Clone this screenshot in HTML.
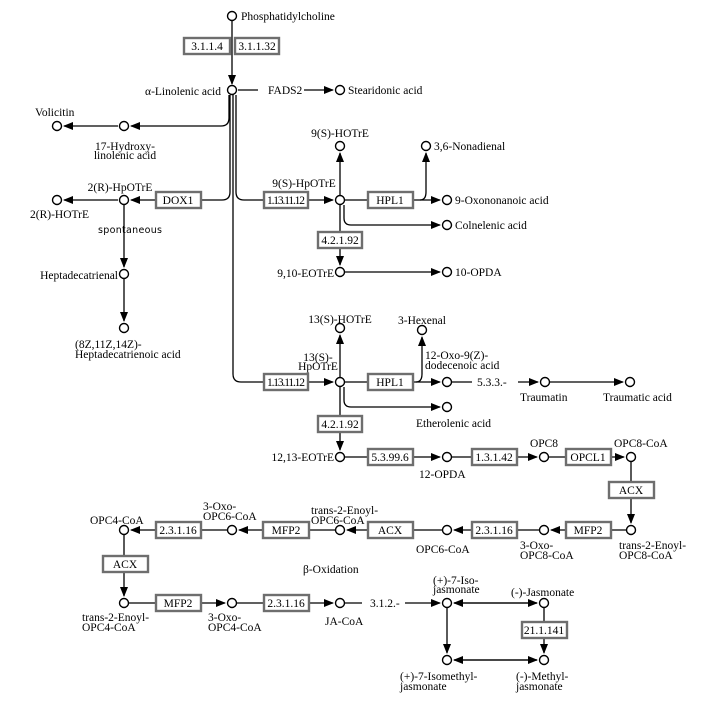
<!DOCTYPE html>
<html><head><meta charset="utf-8"><style>
html,body{margin:0;padding:0;background:#fff;}
svg{display:block;}
text{font-family:"Liberation Serif",serif;font-size:11.5px;fill:#000;}
.b{fill:#fff;stroke:#6e6e6e;stroke-width:2.4;}
.c{fill:#fff;stroke:#000;stroke-width:1.4;}
.l{fill:none;stroke:#000;stroke-width:1.3;}
</style></head><body>
<svg width="710" height="702" viewBox="0 0 710 702" xmlns="http://www.w3.org/2000/svg">
<defs>
<marker id="a" markerWidth="10" markerHeight="8" refX="9" refY="4" orient="auto" markerUnits="userSpaceOnUse">
<path d="M0,0 L10,4 L0,8 Z" fill="#000"/></marker>
</defs>
<g class="l">
<!-- phosphatidylcholine to alpha -->
<path d="M232,21 V84" marker-end="url(#a)"/>
<path d="M238,90 H258 M304,90 H333" marker-end="url(#a)"/>
<!-- parallel lines -->
<path d="M229,95 V118 Q229,126 221,126 H131" marker-end="url(#a)"/>
<path d="M118,126 H64" marker-end="url(#a)"/>
<path d="M230,95 V192 Q230,200 222,200 H202"/>
<path d="M156,200 H131" marker-end="url(#a)"/>
<path d="M118,200 H64" marker-end="url(#a)"/>
<path d="M124,205 V267" marker-end="url(#a)"/>
<path d="M124,279 V321" marker-end="url(#a)"/>
<path d="M236,95 V192 Q236,200 244,200 H264"/>
<path d="M308,200 H333" marker-end="url(#a)"/>
<path d="M233,95 V374 Q233,382 241,382 H264"/>
<!-- 9S branch -->
<path d="M340,195 V153" marker-end="url(#a)"/>
<path d="M345,200 H368 M413,200 H440" marker-end="url(#a)"/>
<path d="M420,200 Q426,200 426,192 V153" marker-end="url(#a)"/>
<path d="M344,205 V218 Q344,225 351,225 H440" marker-end="url(#a)"/>
<path d="M340,205 V265" marker-end="url(#a)"/>
<path d="M345,272 H440" marker-end="url(#a)"/>
<!-- 13S branch -->
<path d="M308,382 H333" marker-end="url(#a)"/>
<path d="M340,377 V335" marker-end="url(#a)"/>
<path d="M345,382 H368 M413,382 H440" marker-end="url(#a)"/>
<path d="M416,382 Q422,382 422,374 V337" marker-end="url(#a)"/>
<path d="M452,382 H472 M518,382 H538" marker-end="url(#a)"/>
<path d="M550,382 H623" marker-end="url(#a)"/>
<path d="M344,387 V400 Q344,407 351,407 H440" marker-end="url(#a)"/>
<path d="M340,387 V450" marker-end="url(#a)"/>
<path d="M345,457 H368 M413,457 H440" marker-end="url(#a)"/>
<path d="M452,457 H472 M517,457 H537" marker-end="url(#a)"/>
<path d="M549,457 H566 M611,457 H624" marker-end="url(#a)"/>
<path d="M631,462 V523" marker-end="url(#a)"/>
<path d="M626,530 H611 M566,530 H551" marker-end="url(#a)"/>
<path d="M539,530 H517 M472,530 H454" marker-end="url(#a)"/>
<path d="M442,530 H413 M368,530 H347" marker-end="url(#a)"/>
<path d="M335,530 H309 M263,530 H239" marker-end="url(#a)"/>
<path d="M227,530 H201 M156,530 H131" marker-end="url(#a)"/>
<path d="M124,535 V596" marker-end="url(#a)"/>
<path d="M129,603 H156 M201,603 H225" marker-end="url(#a)"/>
<path d="M237,603 H264 M309,603 H333" marker-end="url(#a)"/>
<path d="M345,603 H362 M405,603 H440" marker-end="url(#a)"/>
<path d="M454,603 H537" marker-end="url(#a)"/>
<path d="M537,603 H454" marker-end="url(#a)"/>
<path d="M447,608 V653" marker-end="url(#a)"/>
<path d="M544,608 V653" marker-end="url(#a)"/>
<path d="M454,660 H537" marker-end="url(#a)"/>
<path d="M537,660 H454" marker-end="url(#a)"/>
</g>
<!-- enzyme boxes -->
<g>
<rect class="b" x="184" y="38" width="46" height="16"/><text x="207" y="50" text-anchor="middle">3.1.1.4</text>
<rect class="b" x="235" y="38" width="44" height="16"/><text x="257" y="50" text-anchor="middle">3.1.1.32</text>
<rect class="b" x="156" y="192" width="45" height="16"/><text x="178" y="204" text-anchor="middle">DOX1</text>
<rect class="b" x="264" y="192" width="44" height="16"/><text x="286" y="204" text-anchor="middle" textLength="38">1.13.11.12</text>
<rect class="b" x="368" y="192" width="45" height="16"/><text x="390" y="204" text-anchor="middle">HPL1</text>
<rect class="b" x="318" y="232" width="44" height="16"/><text x="340" y="244" text-anchor="middle">4.2.1.92</text>
<rect class="b" x="264" y="374" width="44" height="16"/><text x="286" y="386" text-anchor="middle" textLength="38">1.13.11.12</text>
<rect class="b" x="368" y="374" width="45" height="16"/><text x="390" y="386" text-anchor="middle">HPL1</text>
<rect class="b" x="318" y="416" width="44" height="16"/><text x="340" y="428" text-anchor="middle">4.2.1.92</text>
<rect class="b" x="368" y="449" width="45" height="16"/><text x="390" y="461" text-anchor="middle">5.3.99.6</text>
<rect class="b" x="472" y="449" width="45" height="16"/><text x="494" y="461" text-anchor="middle">1.3.1.42</text>
<rect class="b" x="566" y="449" width="45" height="16"/><text x="588" y="461" text-anchor="middle">OPCL1</text>
<rect class="b" x="609" y="482" width="45" height="16"/><text x="631" y="494" text-anchor="middle">ACX</text>
<rect class="b" x="566" y="522" width="45" height="16"/><text x="588" y="534" text-anchor="middle">MFP2</text>
<rect class="b" x="472" y="522" width="45" height="16"/><text x="494" y="534" text-anchor="middle">2.3.1.16</text>
<rect class="b" x="368" y="522" width="45" height="16"/><text x="390" y="534" text-anchor="middle">ACX</text>
<rect class="b" x="263" y="522" width="46" height="16"/><text x="286" y="534" text-anchor="middle">MFP2</text>
<rect class="b" x="156" y="522" width="45" height="16"/><text x="178" y="534" text-anchor="middle">2.3.1.16</text>
<rect class="b" x="103" y="556" width="45" height="16"/><text x="125" y="568" text-anchor="middle">ACX</text>
<rect class="b" x="156" y="595" width="45" height="16"/><text x="178" y="607" text-anchor="middle">MFP2</text>
<rect class="b" x="264" y="595" width="45" height="16"/><text x="286" y="607" text-anchor="middle">2.3.1.16</text>
<rect class="b" x="522" y="622" width="45" height="16"/><text x="544" y="634" text-anchor="middle">21.1.141</text>
</g>
<!-- compounds -->
<g>
<circle class="c" cx="232" cy="16" r="4.5"/><circle class="c" cx="232" cy="90" r="4.5"/>
<circle class="c" cx="340" cy="90" r="4.5"/>
<circle class="c" cx="124" cy="126" r="4.5"/><circle class="c" cx="57" cy="126" r="4.5"/>
<circle class="c" cx="124" cy="200" r="4.5"/><circle class="c" cx="57" cy="200" r="4.5"/>
<circle class="c" cx="124" cy="274" r="4.5"/><circle class="c" cx="124" cy="328" r="4.5"/>
<circle class="c" cx="340" cy="200" r="4.5"/><circle class="c" cx="340" cy="146" r="4.5"/>
<circle class="c" cx="426" cy="146" r="4.5"/><circle class="c" cx="447" cy="200" r="4.5"/>
<circle class="c" cx="447" cy="225" r="4.5"/><circle class="c" cx="340" cy="272" r="4.5"/>
<circle class="c" cx="447" cy="272" r="4.5"/>
<circle class="c" cx="340" cy="382" r="4.5"/><circle class="c" cx="340" cy="328" r="4.5"/>
<circle class="c" cx="422" cy="330" r="4.5"/><circle class="c" cx="447" cy="382" r="4.5"/>
<circle class="c" cx="545" cy="382" r="4.5"/><circle class="c" cx="630" cy="382" r="4.5"/>
<circle class="c" cx="447" cy="407" r="4.5"/><circle class="c" cx="340" cy="457" r="4.5"/>
<circle class="c" cx="447" cy="457" r="4.5"/><circle class="c" cx="544" cy="457" r="4.5"/>
<circle class="c" cx="631" cy="457" r="4.5"/><circle class="c" cx="631" cy="530" r="4.5"/>
<circle class="c" cx="544" cy="530" r="4.5"/><circle class="c" cx="447" cy="530" r="4.5"/>
<circle class="c" cx="340" cy="530" r="4.5"/><circle class="c" cx="232" cy="530" r="4.5"/>
<circle class="c" cx="124" cy="530" r="4.5"/><circle class="c" cx="124" cy="603" r="4.5"/>
<circle class="c" cx="232" cy="603" r="4.5"/><circle class="c" cx="340" cy="603" r="4.5"/>
<circle class="c" cx="447" cy="603" r="4.5"/><circle class="c" cx="544" cy="603" r="4.5"/>
<circle class="c" cx="447" cy="660" r="4.5"/><circle class="c" cx="544" cy="660" r="4.5"/>
</g>
<!-- labels -->
<g>
<text x="241" y="20">Phosphatidylcholine</text>
<text x="221" y="95" text-anchor="end">α-Linolenic acid</text>
<text x="268" y="94">FADS2</text>
<text x="348" y="94">Stearidonic acid</text>
<text x="35" y="116">Volicitin</text>
<text x="125" y="150" text-anchor="middle">17-Hydroxy-</text>
<text x="125" y="159" text-anchor="middle">linolenic acid</text>
<text x="120" y="191" text-anchor="middle">2(R)-HpOTrE</text>
<text x="30" y="218">2(R)-HOTrE</text>
<text x="98" y="233" style="font-family:'DejaVu Sans',sans-serif;font-size:9.5px;letter-spacing:0.3px">spontaneous</text>
<text x="118" y="279" text-anchor="end">Heptadecatrienal</text>
<text x="75" y="348">(8Z,11Z,14Z)-</text>
<text x="75" y="358">Heptadecatrienoic acid</text>
<text x="340" y="137" text-anchor="middle">9(S)-HOTrE</text>
<text x="304" y="187" text-anchor="middle">9(S)-HpOTrE</text>
<text x="434" y="150">3,6-Nonadienal</text>
<text x="455" y="204">9-Oxononanoic acid</text>
<text x="455" y="229">Colnelenic acid</text>
<text x="334" y="277" text-anchor="end">9,10-EOTrE</text>
<text x="455" y="276">10-OPDA</text>
<text x="340" y="323" text-anchor="middle">13(S)-HOTrE</text>
<text x="422" y="324" text-anchor="middle">3-Hexenal</text>
<text x="318" y="361" text-anchor="middle">13(S)-</text>
<text x="318" y="370" text-anchor="middle">HpOTrE</text>
<text x="425" y="359">12-Oxo-9(Z)-</text>
<text x="425" y="369">dodecenoic acid</text>
<text x="477" y="386">5.3.3.-</text>
<text x="520" y="401">Traumatin</text>
<text x="603" y="401">Traumatic acid</text>
<text x="416" y="427">Etherolenic acid</text>
<text x="334" y="461" text-anchor="end">12,13-EOTrE</text>
<text x="419" y="478">12-OPDA</text>
<text x="544" y="447" text-anchor="middle">OPC8</text>
<text x="614" y="447">OPC8-CoA</text>
<text x="619" y="549">trans-2-Enoyl-</text>
<text x="619" y="559">OPC8-CoA</text>
<text x="520" y="549">3-Oxo-</text>
<text x="520" y="559">OPC8-CoA</text>
<text x="416" y="553">OPC6-CoA</text>
<text x="311" y="514">trans-2-Enoyl-</text>
<text x="311" y="524" >OPC6-CoA</text>
<text x="203" y="510">3-Oxo-</text>
<text x="203" y="520">OPC6-CoA</text>
<text x="90" y="524">OPC4-CoA</text>
<text x="303" y="573">β-Oxidation</text>
<text x="82" y="621">trans-2-Enoyl-</text>
<text x="82" y="631">OPC4-CoA</text>
<text x="208" y="621">3-Oxo-</text>
<text x="208" y="631">OPC4-CoA</text>
<text x="325" y="625">JA-CoA</text>
<text x="370" y="607">3.1.2.-</text>
<text x="433" y="584">(+)-7-Iso-</text>
<text x="433" y="593">jasmonate</text>
<text x="511" y="596">(-)-Jasmonate</text>
<text x="400" y="680">(+)-7-Isomethyl-</text>
<text x="400" y="690">jasmonate</text>
<text x="516" y="680">(-)-Methyl-</text>
<text x="516" y="690">jasmonate</text>
</g>
</svg>
</body></html>
